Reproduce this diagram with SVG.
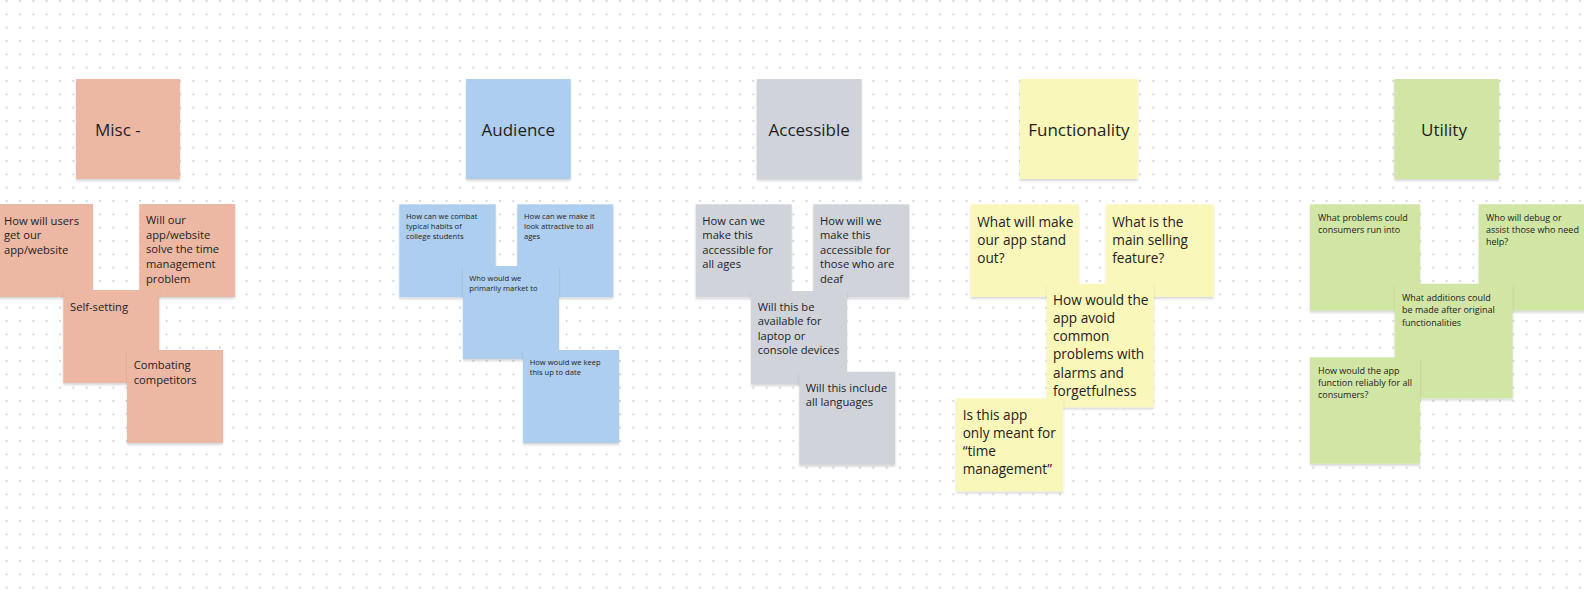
<svg xmlns="http://www.w3.org/2000/svg" width="1584" height="594" viewBox="0 0 1584 594">
<defs>
<pattern id="dots" x="6.67" y="1" width="13.333" height="13.333" patternUnits="userSpaceOnUse">
<circle cx="0" cy="0" r="1.15" fill="#d8d8e0"/>
<circle cx="13.333" cy="0" r="1.15" fill="#d8d8e0"/>
<circle cx="0" cy="13.333" r="1.15" fill="#d8d8e0"/>
<circle cx="13.333" cy="13.333" r="1.15" fill="#d8d8e0"/>
</pattern>
<filter id="sh" x="-10%" y="-10%" width="120%" height="125%">
<feGaussianBlur in="SourceAlpha" stdDeviation="1.2"/>
<feOffset dx="0" dy="2" result="b"/>
<feComponentTransfer><feFuncA type="linear" slope="0.16"/></feComponentTransfer>
<feMerge><feMergeNode/><feMergeNode in="SourceGraphic"/></feMerge>
</filter>
</defs>
<style>
.n{filter:url(#sh)}
.misc{fill:#ECB8A4}
.aud{fill:#ADCEEF}
.acc{fill:#D0D3DA}
.fun{fill:#F9F7B9}
.uti{fill:#D1E5A4}
.h{font-family:"Open Sans","Noto Sans","Liberation Sans",sans-serif;font-size:17px;fill:#1e1e1e}
.t{font-family:"Open Sans","Noto Sans","Liberation Sans",sans-serif;fill:#232323}
.s11{font-size:11.2px}
.s8{font-size:7.6px}
.s14{font-size:13.6px}
.s9{font-size:9px}
</style>
<rect width="1584" height="594" fill="#ffffff"/>
<rect width="1584" height="594" fill="url(#dots)"/>

<g id="connectors"></g>

<!-- Headers -->
<g id="h-misc"><rect class="n misc" x="76" y="79" width="104" height="100"/><text class="h" x="95" y="135.5">Misc -</text></g>
<g id="h-audience"><rect class="n aud" x="466" y="79" width="104.7" height="100"/><text class="h" x="518.3" y="135.5" text-anchor="middle">Audience</text></g>
<g id="h-accessible"><rect class="n acc" x="756.7" y="79" width="105" height="100"/><text class="h" x="809.2" y="135.5" text-anchor="middle">Accessible</text></g>
<g id="h-functionality"><rect class="n fun" x="1020" y="79" width="117.7" height="100"/><text class="h" x="1078.9" y="135.5" text-anchor="middle">Functionality</text></g>
<g id="h-utility"><rect class="n uti" x="1394.3" y="79" width="104.7" height="100"/><text class="h" x="1444" y="135.5" text-anchor="middle">Utility</text></g>

<!-- Misc notes -->
<g id="misc-1"><rect class="n misc" x="-3" y="204" width="96" height="93"/>
<text class="t s11" x="4" y="224.5"><tspan x="4">How will users</tspan><tspan x="4" dy="14.5">get our</tspan><tspan x="4" dy="14.5">app/website</tspan></text></g>
<g id="misc-2"><rect class="n misc" x="139.3" y="204" width="96" height="93"/>
<text class="t s11" x="146" y="224"><tspan x="146">Will our</tspan><tspan x="146" dy="14.7">app/website</tspan><tspan x="146" dy="14.7">solve the time</tspan><tspan x="146" dy="14.7">management</tspan><tspan x="146" dy="14.7">problem</tspan></text></g>
<g id="misc-3"><rect class="n misc" x="63.3" y="290" width="96" height="93"/>
<text class="t s11" x="70" y="310.5">Self-setting</text></g>
<g id="misc-4"><rect class="n misc" x="127" y="350" width="96" height="93"/>
<text class="t s11" x="133.7" y="369"><tspan x="133.7">Combating</tspan><tspan x="133.7" dy="15">competitors</tspan></text></g>

<!-- Audience notes -->
<g id="aud-1"><rect class="n aud" x="399.3" y="204.3" width="96.4" height="93"/>
<text class="t s8" x="406" y="219.3"><tspan x="406">How can we combat</tspan><tspan x="406" dy="10">typical habits of</tspan><tspan x="406" dy="10">college students</tspan></text></g>
<g id="aud-2"><rect class="n aud" x="517.3" y="204.3" width="96" height="93"/>
<text class="t s8" x="524" y="219.3"><tspan x="524">How can we make it</tspan><tspan x="524" dy="10">look attractive to all</tspan><tspan x="524" dy="10">ages</tspan></text></g>
<g id="aud-3"><rect class="n aud" x="463" y="266" width="96" height="93"/>
<text class="t s8" x="469.3" y="281"><tspan x="469.3">Who would we</tspan><tspan x="469.3" dy="10">primarily market to</tspan></text></g>
<g id="aud-4"><rect class="n aud" x="523" y="350" width="96" height="93"/>
<text class="t s8" x="529.7" y="365"><tspan x="529.7">How would we keep</tspan><tspan x="529.7" dy="10">this up to date</tspan></text></g>

<!-- Accessible notes -->
<g id="acc-1"><rect class="n acc" x="695.7" y="204.3" width="96" height="93"/>
<text class="t s11" x="702.3" y="224.5"><tspan x="702.3">How can we</tspan><tspan x="702.3" dy="14.5">make this</tspan><tspan x="702.3" dy="14.5">accessible for</tspan><tspan x="702.3" dy="14.5">all ages</tspan></text></g>
<g id="acc-2"><rect class="n acc" x="813.3" y="204.3" width="96" height="93"/>
<text class="t s11" x="820" y="224.5"><tspan x="820">How will we</tspan><tspan x="820" dy="14.5">make this</tspan><tspan x="820" dy="14.5">accessible for</tspan><tspan x="820" dy="14.5">those who are</tspan><tspan x="820" dy="14.5">deaf</tspan></text></g>
<g id="acc-3"><rect class="n acc" x="751" y="291" width="96" height="93"/>
<text class="t s11" x="757.7" y="310.5"><tspan x="757.7">Will this be</tspan><tspan x="757.7" dy="14.5">available for</tspan><tspan x="757.7" dy="14.5">laptop or</tspan><tspan x="757.7" dy="14.5">console devices</tspan></text></g>
<g id="acc-4"><rect class="n acc" x="799.3" y="371.7" width="96" height="93"/>
<text class="t s11" x="805.7" y="391.5"><tspan x="805.7">Will this include</tspan><tspan x="805.7" dy="14.5">all languages</tspan></text></g>

<!-- Functionality notes -->
<g id="fun-1"><rect class="n fun" x="970.7" y="204.3" width="108" height="92.5"/>
<text class="t s14" x="977.3" y="226.5"><tspan x="977.3">What will make</tspan><tspan x="977.3" dy="18.2">our app stand</tspan><tspan x="977.3" dy="18.2">out?</tspan></text></g>
<g id="fun-2"><rect class="n fun" x="1105.7" y="204.3" width="108" height="92.5"/>
<text class="t s14" x="1112.3" y="226.5"><tspan x="1112.3">What is the</tspan><tspan x="1112.3" dy="18.2">main selling</tspan><tspan x="1112.3" dy="18.2">feature?</tspan></text></g>
<g id="fun-3"><rect class="n fun" x="1046.7" y="283.7" width="107" height="123.6"/>
<text class="t s14" x="1053" y="304.8"><tspan x="1053">How would the</tspan><tspan x="1053" dy="18.2">app avoid</tspan><tspan x="1053" dy="18.2">common</tspan><tspan x="1053" dy="18.2">problems with</tspan><tspan x="1053" dy="18.2">alarms and</tspan><tspan x="1053" dy="18.2">forgetfulness</tspan></text></g>
<g id="fun-4"><rect class="n fun" x="956" y="398.3" width="107.3" height="93"/>
<text class="t s14" x="962.7" y="419.8"><tspan x="962.7">Is this app</tspan><tspan x="962.7" dy="18.2">only meant for</tspan><tspan x="962.7" dy="18.2">“time</tspan><tspan x="962.7" dy="18.2">management”</tspan></text></g>

<!-- Utility notes -->
<g id="uti-1"><rect class="n uti" x="1310" y="204.3" width="110" height="106.4"/>
<text class="t s9" x="1318" y="220.7"><tspan x="1318">What problems could</tspan><tspan x="1318" dy="12.3">consumers run into</tspan></text></g>
<g id="uti-2"><rect class="n uti" x="1478.7" y="204.3" width="110" height="106.4"/>
<text class="t s9" x="1486" y="220.7"><tspan x="1486">Who will debug or</tspan><tspan x="1486" dy="12.3">assist those who need</tspan><tspan x="1486" dy="12.3">help?</tspan></text></g>
<g id="uti-3"><rect class="n uti" x="1394.7" y="283.7" width="118" height="114.6"/>
<text class="t s9" x="1402" y="300.7"><tspan x="1402">What additions could</tspan><tspan x="1402" dy="12.7">be made after original</tspan><tspan x="1402" dy="12.7">functionalities</tspan></text></g>
<g id="uti-4"><rect class="n uti" x="1310" y="357.3" width="110" height="106.4"/>
<text class="t s9" x="1318" y="373.7"><tspan x="1318">How would the app</tspan><tspan x="1318" dy="12.3">function reliably for all</tspan><tspan x="1318" dy="12.3">consumers?</tspan></text></g>
</svg>
